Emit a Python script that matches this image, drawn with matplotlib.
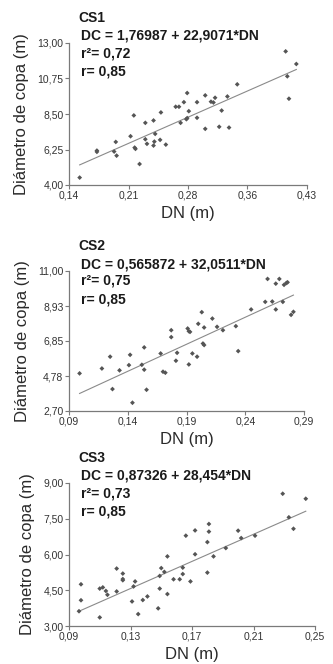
import numpy as np
import matplotlib
matplotlib.use("Agg")
import matplotlib.pyplot as plt

plt.rcParams['font.family'] = ['Liberation Sans', 'DejaVu Sans']

# ---------------- data ----------------
cs1_dn = [0.153, 0.174, 0.174, 0.197, 0.195, 0.198, 0.215, 0.220, 0.221, 0.219,
          0.226, 0.233, 0.233, 0.235, 0.243, 0.244, 0.243, 0.245, 0.252, 0.251,
          0.258, 0.270, 0.274, 0.276, 0.280, 0.283, 0.284, 0.286, 0.284, 0.296,
          0.296, 0.306, 0.306, 0.313, 0.316, 0.318, 0.323, 0.326, 0.333, 0.335,
          0.345, 0.404, 0.406, 0.408, 0.417]
cs1_dc = [4.47, 6.18, 6.10, 6.73, 6.12, 5.86, 7.09, 6.37, 6.29, 8.41,
          5.33, 7.94, 6.90, 6.61, 8.09, 6.75, 6.50, 7.24, 8.60, 6.86,
          6.56, 8.96, 8.96, 7.94, 9.25, 8.17, 9.83, 8.68, 8.24, 9.25,
          8.26, 9.68, 7.56, 9.28, 9.23, 9.53, 7.69, 8.72, 9.61, 7.64,
          10.38, 12.47, 10.89, 9.47, 11.67]

cs2_dn = [0.099, 0.118, 0.125, 0.127, 0.133, 0.141, 0.142, 0.144, 0.152, 0.154,
          0.154, 0.156, 0.168, 0.170, 0.172, 0.177, 0.177, 0.182, 0.181, 0.191,
          0.192, 0.193, 0.192, 0.195, 0.199, 0.200, 0.203, 0.205, 0.204, 0.205,
          0.212, 0.216, 0.221, 0.232, 0.234, 0.245, 0.257, 0.259, 0.263, 0.266,
          0.266, 0.269, 0.272, 0.273, 0.275, 0.276, 0.279, 0.281]
cs2_dc = [4.93, 5.22, 5.92, 4.00, 5.11, 5.42, 6.03, 3.19, 5.44, 6.47,
          5.15, 3.96, 6.11, 5.03, 4.97, 7.49, 7.08, 6.15, 5.68, 7.59,
          7.43, 7.39, 5.46, 6.11, 5.92, 7.87, 8.56, 7.65, 6.70, 6.61,
          8.18, 7.69, 7.49, 7.73, 6.25, 8.72, 9.17, 10.53, 9.19, 8.72,
          10.25, 10.53, 9.17, 10.18, 10.29, 10.33, 8.40, 8.58]

cs3_dn = [0.0965, 0.0978, 0.0978, 0.110, 0.110, 0.112, 0.114, 0.115, 0.121, 0.121,
          0.125, 0.125, 0.125, 0.131, 0.133, 0.132, 0.135, 0.138, 0.141, 0.148,
          0.149, 0.149, 0.150, 0.152, 0.154, 0.154, 0.158, 0.162, 0.164, 0.164,
          0.166, 0.169, 0.172, 0.172, 0.180, 0.180, 0.181, 0.181, 0.184, 0.192,
          0.200, 0.202, 0.211, 0.229, 0.233, 0.236, 0.244]
cs3_dc = [3.62, 4.75, 4.08, 3.36, 4.57, 4.62, 4.47, 4.31, 5.41, 4.45,
          5.20, 4.97, 4.92, 4.03, 4.87, 4.66, 3.50, 4.09, 4.24, 3.74,
          4.57, 5.10, 5.43, 5.27, 5.92, 4.34, 4.96, 4.96, 5.18, 5.45,
          6.79, 4.87, 7.01, 6.01, 5.24, 6.52, 7.28, 6.96, 5.92, 6.27,
          7.00, 6.69, 6.79, 8.55, 7.56, 7.08, 8.34]

titles = ["CS1", "CS2", "CS3"]
equations = ["DC = 1,76987 + 22,9071*DN",
             "DC = 0,565872 + 32,0511*DN",
             "DC = 0,87326 + 28,454*DN"]
r2_texts = ["r²= 0,72", "r²= 0,75", "r²= 0,73"]
r_texts = ["r= 0,85", "r= 0,85", "r= 0,85"]
intercepts = [1.76987, 0.565872, 0.87326]
slopes = [22.9071, 32.0511, 28.454]

x_ticklabels = [["0,14", "0,21", "0,28", "0,36", "0,43"],
                ["0,09", "0,14", "0,19", "0,24", "0,29"],
                ["0,09", "0,13", "0,17", "0,21", "0,25"]]
y_ticklabels = [["4,00", "6,25", "8,50", "10,75", "13,00"],
                ["2,70", "4,78", "6,85", "8,93", "11,00"],
                ["3,00", "4,50", "6,00", "7,50", "9,00"]]
x_limits = [(0.14, 0.43), (0.09, 0.29), (0.09, 0.25)]
y_limits = [(4.00, 13.00), (2.70, 11.00), (3.00, 9.00)]

xs = [cs1_dn, cs2_dn, cs3_dn]
ys = [cs1_dc, cs2_dc, cs3_dc]

# ---------------- layout ----------------
W, H = 333, 664
fig = plt.figure(figsize=(W / 100, H / 100), dpi=100)
fig.patch.set_facecolor("white")

# (left, top, right, bottom) in pixels
boxes = [(69, 43, 307, 185), (69, 271, 304, 411), (69, 483, 315, 626)]

spine_col = "#7a7a7a"
text_col = "#1a1a1a"
tick_col = "#333333"

for i in range(3):
    l, t, r, b = boxes[i]
    ax = fig.add_axes([l / W, 1 - b / H, (r - l) / W, (b - t) / H])
    ax.set_facecolor("white")
    for s in ["top", "right"]:
        ax.spines[s].set_visible(False)
    for s in ["left", "bottom"]:
        ax.spines[s].set_color(spine_col)
        ax.spines[s].set_linewidth(0.9)

    ax.set_xlim(*x_limits[i])
    ax.set_ylim(*y_limits[i])
    ax.set_xticks(np.linspace(x_limits[i][0], x_limits[i][1], 5))
    ax.set_xticklabels(x_ticklabels[i])
    ax.set_yticks(np.linspace(y_limits[i][0], y_limits[i][1], 5))
    ax.set_yticklabels(y_ticklabels[i])
    ax.tick_params(direction="out", length=3, width=0.8, color=spine_col,
                   labelsize=7.5, labelcolor=tick_col, pad=1)

    x = np.array(xs[i])
    y = np.array(ys[i])
    ax.scatter(x, y, marker="D", s=6, color="#555555", edgecolors="none",
               zorder=3, clip_on=False)
    xl = np.array([x.min(), x.max()])
    ax.plot(xl, intercepts[i] + slopes[i] * xl, color="#8a8a8a", lw=0.8, zorder=2)

    ax.set_ylabel("Diámetro de copa (m)", fontsize=12, color="#2a2a2a", labelpad=6)
    ax.set_xlabel("DN (m)", fontsize=12, color="#2a2a2a", labelpad=4)

    # annotations
    fig.text(78 / W, 1 - (t - 25) / H, titles[i], fontsize=10, fontweight="bold",
             color=text_col, va="center", ha="left")
    fig.text(81 / W, 1 - (t - 7) / H, equations[i], fontsize=10, fontweight="bold",
             color=text_col, va="center", ha="left")
    fig.text(81 / W, 1 - (t + 10) / H, r2_texts[i], fontsize=10, fontweight="bold",
             color=text_col, va="center", ha="left")
    fig.text(81 / W, 1 - (t + 28) / H, r_texts[i], fontsize=10, fontweight="bold",
             color=text_col, va="center", ha="left")

fig.savefig("out.png", dpi=100, facecolor="white")
